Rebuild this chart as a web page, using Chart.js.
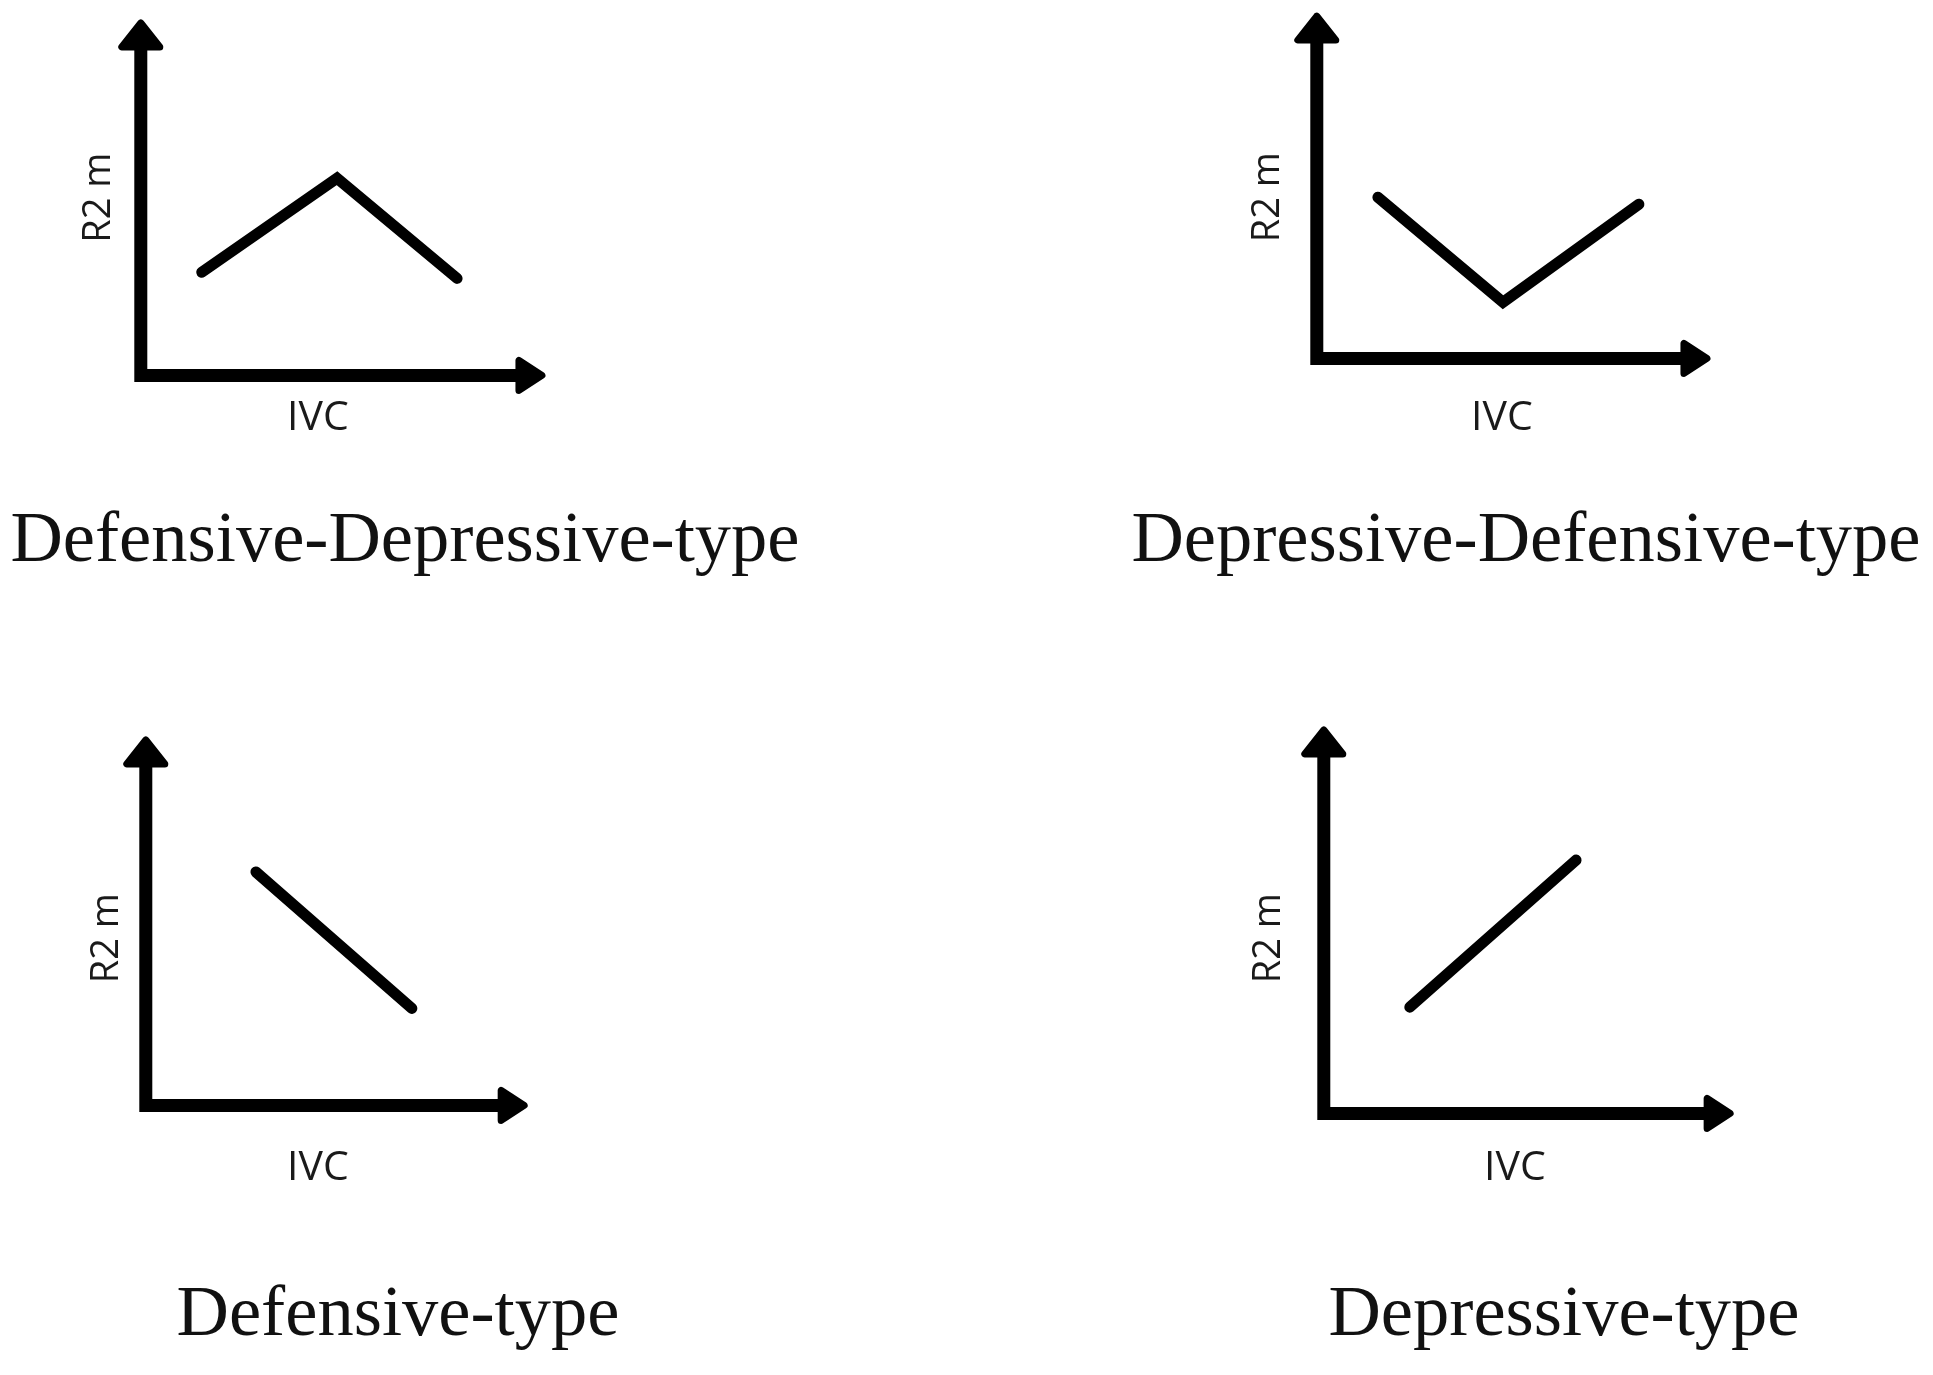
<!DOCTYPE html>
<html>
<head>
<meta charset="utf-8">
<title>R2m vs IVC types</title>
<script src="https://cdn.jsdelivr.net/npm/chart.js@4.4.1/dist/chart.umd.min.js"></script>
<style>
  html, body { margin: 0; padding: 0; background: #fff; }
  #page { position: relative; width: 1933px; height: 1375px; overflow: hidden; }
  #page canvas { position: absolute; }
  .caption {
    position: absolute; width: 1000px; text-align: center; white-space: nowrap;
    font-family: "Liberation Serif", "Times New Roman", serif;
    font-size: 72.5px; line-height: 72px; color: #111;
  }
</style>
</head>
<body>
<div id="page"></div>
<script>
// axis titles
const xTitle = 'IVC';
const yTitle = 'R2 m';

// panel captions
const panelNames = ['Defensive-Depressive-type', 'Depressive-Defensive-type', 'Defensive-type', 'Depressive-type'];

// sketch lines, in axis units (0-10)
const defDepIVC = [1.72, 5.54, 8.93];
const defDepR2m = [2.90, 5.55, 2.73];
const depDefIVC = [1.65, 5.03, 8.70];
const depDefR2m = [5.00, 1.74, 4.78];
const defIVC = [3.20, 7.73];
const defR2m = [6.98, 2.90];
const depIVC = [2.25, 6.60];
const depR2m = [3.03, 7.23];

// where the arrow heads end, in axis units
const arrowEndX = [11.41, 10.62, 11.08, 10.71];
const arrowEndY = [10.0, 10.71, 11.02, 11.03];

const seriesIVC = [defDepIVC, depDefIVC, defIVC, depIVC];
const seriesR2m = [defDepR2m, depDefR2m, defR2m, depR2m];

// page layout: chart area [left, top, right, bottom], title gaps, caption centre/top
const layout = [
  { area: [141, 20, 495, 375], yGap: 42, xGap: 40, caption: [405, 501] },
  { area: [1317, 36, 1687, 358], yGap: 49, xGap: 57, caption: [1526, 501] },
  { area: [146, 771, 490, 1105], yGap: 39, xGap: 60, caption: [398, 1275] },
  { area: [1324, 763, 1706, 1113], yGap: 55, xGap: 52, caption: [1564, 1275] }
];

const xFont = { family: '"Open Sans", sans-serif', size: 41 };
const yFont = { family: '"Open Sans", sans-serif', size: 38 };
const xLineH = xFont.size * 1.2;
const yLineH = yFont.size * 1.2;
const pad = { left: 10, top: 60, right: 80, bottom: 10 };

// thick axes with arrow heads, drawn from the scales
const arrowAxes = {
  id: 'arrowAxes',
  afterDraw(chart, args, opts) {
    const { ctx, scales: { x, y } } = chart;
    const ox = x.getPixelForValue(0);
    const oy = y.getPixelForValue(0);
    const tx = x.getPixelForValue(opts.xEnd);
    const ty = y.getPixelForValue(opts.yEnd);
    ctx.save();
    ctx.strokeStyle = '#000';
    ctx.fillStyle = '#000';
    ctx.lineWidth = 13;
    ctx.lineJoin = 'miter';
    ctx.beginPath();
    ctx.moveTo(ox, ty + 20);
    ctx.lineTo(ox, oy);
    ctx.lineTo(tx - 18, oy);
    ctx.stroke();

    ctx.lineWidth = 7;
    ctx.lineJoin = 'round';
    ctx.beginPath();
    ctx.moveTo(ox, ty + 3);
    ctx.lineTo(ox - 19, ty + 27);
    ctx.lineTo(ox + 19, ty + 27);
    ctx.closePath();
    ctx.fill();
    ctx.stroke();

    ctx.beginPath();
    ctx.moveTo(tx - 3, oy);
    ctx.lineTo(tx - 26, oy - 15);
    ctx.lineTo(tx - 26, oy + 15);
    ctx.closePath();
    ctx.fill();
    ctx.stroke();
    ctx.restore();
  }
};

const page = document.getElementById('page');

layout.forEach((l, i) => {
  const [aL, aT, aR, aB] = l.area;
  const yPadBottom = l.yGap - yLineH / 2;
  const xPadTop = l.xGap - xLineH / 2 + 3;
  const yScaleW = yLineH + yPadBottom;
  const xScaleH = xLineH + xPadTop;

  const left = Math.round(aL - yScaleW - pad.left);
  const top = Math.round(aT - pad.top);
  const width = Math.round(aR + pad.right) - left;
  const height = Math.round(aB + xScaleH + pad.bottom) - top;

  const canvas = document.createElement('canvas');
  canvas.width = width;
  canvas.height = height;
  canvas.style.left = left + 'px';
  canvas.style.top = top + 'px';
  canvas.style.width = width + 'px';
  canvas.style.height = height + 'px';
  page.appendChild(canvas);

  const points = seriesIVC[i].map((v, k) => ({ x: v, y: seriesR2m[i][k] }));

  new Chart(canvas, {
    type: 'line',
    data: {
      datasets: [{
        label: panelNames[i],
        data: points,
        borderColor: '#000',
        borderWidth: 11,
        borderCapStyle: 'round',
        borderJoinStyle: 'miter',
        tension: 0,
        pointRadius: 0,
        clip: false
      }]
    },
    options: {
      responsive: false,
      animation: false,
      events: [],
      layout: { padding: pad },
      plugins: {
        legend: { display: false },
        tooltip: { enabled: false },
        arrowAxes: { xEnd: arrowEndX[i], yEnd: arrowEndY[i] }
      },
      scales: {
        x: {
          type: 'linear',
          min: 0,
          max: 10,
          grid: { display: false, drawTicks: false },
          border: { display: false },
          ticks: { display: false },
          title: {
            display: true,
            text: xTitle,
            color: '#1a1a1a',
            font: xFont,
            padding: { top: xPadTop, bottom: 0 }
          }
        },
        y: {
          type: 'linear',
          min: 0,
          max: 10,
          grid: { display: false, drawTicks: false },
          border: { display: false },
          ticks: { display: false },
          title: {
            display: true,
            text: yTitle,
            color: '#1a1a1a',
            font: yFont,
            padding: { top: 0, bottom: yPadBottom }
          }
        }
      }
    },
    plugins: [arrowAxes]
  });

  const cap = document.createElement('div');
  cap.className = 'caption';
  cap.textContent = panelNames[i];
  cap.style.left = (l.caption[0] - 500) + 'px';
  cap.style.top = l.caption[1] + 'px';
  page.appendChild(cap);
});
</script>
</body>
</html>
